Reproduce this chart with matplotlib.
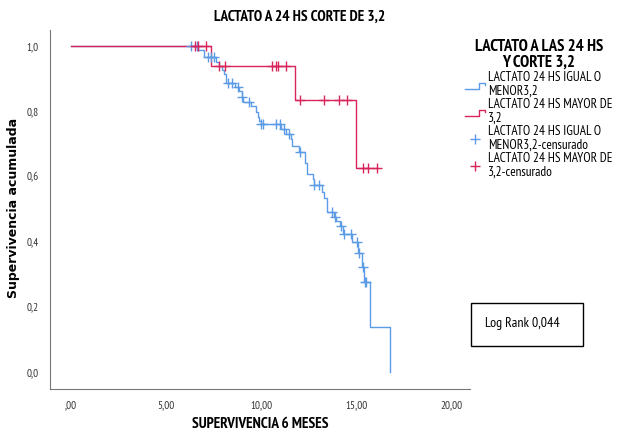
#!/usr/bin/env python3
import matplotlib
matplotlib.use('Agg')
import matplotlib.pyplot as plt
from matplotlib.lines import Line2D
from matplotlib.legend_handler import HandlerBase
from matplotlib.patches import Rectangle

plt.rcParams['font.family'] = ['PT Sans Narrow', 'Roboto Condensed', 'Fira Sans Condensed',
                               'Archivo Narrow', 'DejaVu Sans']

# grupo lactato <= 3,2 (pasos de Kaplan-Meier)
blue_t = [0, 6.68, 7.00, 7.61, 7.78, 7.93, 8.05, 8.14, 8.62, 8.83, 8.98, 9.04, 9.46,
          9.71, 9.81, 9.88, 9.96, 11.04, 11.28, 11.55, 11.63, 11.96, 12.30, 12.40,
          12.69, 12.75, 13.19, 13.30, 13.45, 13.80, 13.93, 14.14, 14.26, 14.77,
          15.08, 15.27, 15.40, 15.70, 16.75]
blue_s = [1.0, 0.988, 0.967, 0.951, 0.939, 0.926, 0.914, 0.887, 0.874, 0.863, 0.843,
          0.828, 0.816, 0.797, 0.782, 0.770, 0.760, 0.744, 0.730, 0.713, 0.693,
          0.676, 0.641, 0.607, 0.592, 0.573, 0.552, 0.532, 0.491, 0.475, 0.464,
          0.447, 0.424, 0.398, 0.364, 0.322, 0.276, 0.138, 0.0]
blue_cens_t = [6.30, 6.61, 7.17, 7.35, 7.52, 8.27, 8.45, 8.75, 9.00, 9.36, 9.97, 10.07,
               10.76, 10.99, 11.20, 11.46, 12.04, 12.77, 13.03, 13.73, 13.85, 14.17,
               14.35, 14.70, 15.03, 15.14, 15.31, 15.42, 15.47]
blue_cens_s = [1.0, 1.0, 0.967, 0.967, 0.967, 0.887, 0.887, 0.874, 0.843, 0.828, 0.760,
               0.760, 0.760, 0.760, 0.744, 0.730, 0.676, 0.573, 0.573, 0.491, 0.475,
               0.447, 0.424, 0.424, 0.398, 0.364, 0.322, 0.276, 0.276]

# grupo lactato > 3,2
red_t = [0, 7.35, 11.76, 14.99, 16.06]
red_s = [1.0, 0.9375, 0.833, 0.625, 0.625]
red_cens_t = [6.51, 6.68, 7.09, 7.78, 8.08, 10.55, 10.76, 10.88, 11.30,
              12.02, 13.30, 14.05, 14.50, 15.31, 15.59, 16.06]
red_cens_s = [1.0, 1.0, 1.0, 0.9375, 0.9375, 0.9375, 0.9375, 0.9375, 0.9375,
              0.833, 0.833, 0.833, 0.833, 0.625, 0.625, 0.625]

xticks = [0, 5, 10, 15, 20]
xlabels = [',00', '5,00', '10,00', '15,00', '20,00']
yticks = [0.0, 0.2, 0.4, 0.6, 0.8, 1.0]
ylabels = ['0,0', '0,2', '0,4', '0,6', '0,8', '1,0']

labels = ['LACTATO 24 HS IGUAL O\nMENOR3,2', 'LACTATO 24 HS MAYOR DE\n3,2',
          'LACTATO 24 HS IGUAL O\nMENOR3,2-censurado', 'LACTATO 24 HS MAYOR DE\n3,2-censurado']

BLUE = '#5c9ce6'
RED = '#d8245a'


class StepHandler(HandlerBase):
    def create_artists(self, legend, orig_handle, xdescent, ydescent, width, height, fontsize, trans):
        w, h = width, height
        xs = [0, 0.7*w, 0.7*w, w, w]
        ys = [0.0, 0.0, 0.7*h, 0.7*h, 0.4*h]
        ln = Line2D([x - xdescent for x in xs], [y - ydescent for y in ys],
                    color=orig_handle.get_color(), lw=1.0)
        ln.set_transform(trans)
        return [ln]


fig = plt.figure(figsize=(6.21, 4.34), dpi=100)
ax = fig.add_axes([50/621, 45/434, 420/621, 359/434])

h1, = ax.step(blue_t, blue_s, where='post', color=BLUE, lw=1.0)
h2, = ax.step(red_t, red_s, where='post', color=RED, lw=1.0)
h3, = ax.plot(blue_cens_t, blue_cens_s, '+', color=BLUE, ms=7, mew=1.0)
h4, = ax.plot(red_cens_t, red_cens_s, '+', color=RED, ms=7, mew=1.0)

ax.set_xlim(-1.1, 20.95)
ax.set_ylim(-0.053, 1.049)
ax.set_xticks(xticks, xlabels)
ax.set_yticks(yticks, ylabels)
ax.tick_params(length=0, labelsize=8, colors='#333333', pad=8)
for s in ['top', 'right']:
    ax.spines[s].set_visible(False)
for s in ['left', 'bottom']:
    ax.spines[s].set_color('#777777')
    ax.spines[s].set_linewidth(0.8)

ax.set_xlabel('SUPERVIVENCIA 6 MESES', fontsize=11, fontweight='bold')
ax.xaxis.set_label_coords((260 - 50) / 420, -(417 - 389) / 359)
ax.set_ylabel('Supervivencia acumulada', fontsize=9, fontweight='bold',
              family=['DejaVu Sans'])
ax.yaxis.set_label_coords((20 - 50) / 420, (389 - 208) / 359)
fig.text(300/621, 1 - 17/434, 'LACTATO A 24 HS CORTE DE 3,2', ha='center', va='center',
         fontsize=11, fontweight='bold')

leg = fig.legend([h1, h2, h3, h4], labels, loc='upper left',
                 bbox_to_anchor=(460/621, 1 - 34/434),
                 handler_map={h1: StepHandler(), h2: StepHandler()},
                 title='LACTATO A LAS 24 HS\nY CORTE 3,2', frameon=False,
                 fontsize=9.5, handlelength=1.5, handletextpad=0.25, labelspacing=0.0,
                 borderaxespad=0)
leg.get_title().set_fontweight('bold')
leg.get_title().set_fontsize(12)
leg.get_title().set_linespacing(0.95)
leg.get_title().set_multialignment('center')
for t in leg.get_texts():
    t.set_linespacing(1.1)

fig.patches.append(Rectangle((471/621, 1 - 346/434), 112/621, 43/434,
                             transform=fig.transFigure, fill=False,
                             edgecolor='black', lw=1.0))
fig.text(485/621, 1 - 323/434, 'Log Rank 0,044', ha='left', va='center', fontsize=10)

fig.savefig('out.png', dpi=100)
